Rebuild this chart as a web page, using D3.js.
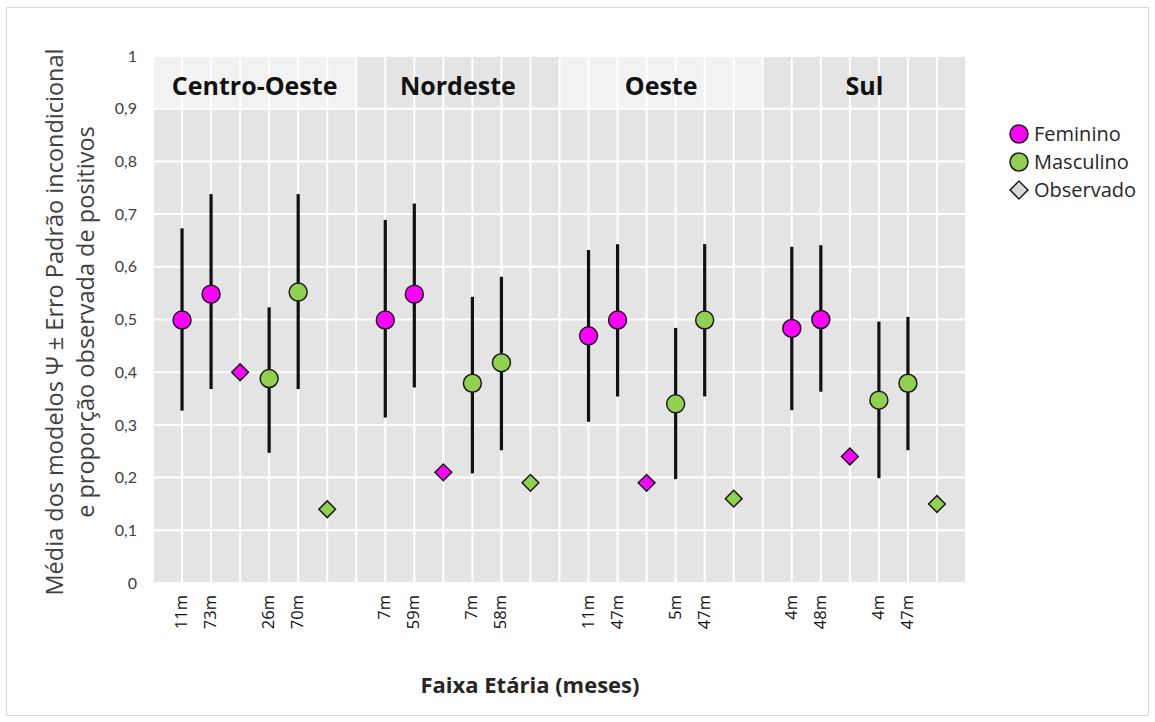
<!DOCTYPE html>
<html>
<head>
<meta charset="utf-8">
<script src="https://cdn.jsdelivr.net/npm/d3@7"></script>
<style>
  body { margin: 0; background: #fff; }
  text { font-family: "Open Sans", Lato, sans-serif; }
</style>
</head>
<body>
<div id="chart"></div>
<script>
// data
const regions = ["Centro-Oeste", "Nordeste", "Oeste", "Sul"];

const femAges  = [["11m", "73m"], ["7m", "59m"], ["11m", "47m"], ["4m", "48m"]];
const femMean  = [[0.499, 0.548], [0.499, 0.548], [0.469, 0.499], [0.483, 0.500]];
const femLow   = [[0.327, 0.368], [0.314, 0.371], [0.306, 0.354], [0.328, 0.363]];
const femHigh  = [[0.673, 0.738], [0.689, 0.720], [0.632, 0.643], [0.638, 0.641]];

const mascAges = [["26m", "70m"], ["7m", "58m"], ["5m", "47m"], ["4m", "47m"]];
const mascMean = [[0.388, 0.552], [0.379, 0.418], [0.340, 0.499], [0.347, 0.379]];
const mascLow  = [[0.247, 0.368], [0.208, 0.252], [0.197, 0.354], [0.199, 0.252]];
const mascHigh = [[0.523, 0.738], [0.543, 0.581], [0.484, 0.643], [0.496, 0.505]];

const obsFem  = [0.40, 0.21, 0.19, 0.24];
const obsMasc = [0.14, 0.19, 0.16, 0.15];

const yTicks = [0, 0.1, 0.2, 0.3, 0.4, 0.5, 0.6, 0.7, 0.8, 0.9, 1];
const legendItems = ["Feminino", "Masculino", "Observado"];

const FEM = "#ff00ff", MASC = "#92d050", OBS = "#d9d9d9";

// build points: each region takes 7 slots on the x axis
const points = [];
const obs = [];
regions.forEach((r, i) => {
  const base = i * 7;
  [0, 1].forEach(j => {
    points.push({x: base + 1 + j, age: femAges[i][j], mean: femMean[i][j], low: femLow[i][j], high: femHigh[i][j], color: FEM});
    points.push({x: base + 4 + j, age: mascAges[i][j], mean: mascMean[i][j], low: mascLow[i][j], high: mascHigh[i][j], color: MASC});
  });
  obs.push({x: base + 3, value: obsFem[i], color: FEM});
  obs.push({x: base + 6, value: obsMasc[i], color: MASC});
});

const W = 1155, H = 722;
const svg = d3.select("#chart").append("svg")
  .attr("width", W)
  .attr("height", H);

// outer frame
svg.append("rect")
  .attr("x", 6.5).attr("y", 7.5)
  .attr("width", 1142).attr("height", 708)
  .attr("fill", "#fff")
  .attr("stroke", "#d9d9d9");

const x = d3.scaleLinear().domain([0, 28]).range([153, 966]);
const y = d3.scaleLinear().domain([0, 1]).range([583, 56]);

// plot area
svg.append("rect")
  .attr("x", x(0)).attr("y", y(1))
  .attr("width", x(28) - x(0)).attr("height", y(0) - y(1))
  .attr("fill", "#e4e4e4");

// header bands
svg.selectAll(".band")
  .data(regions)
  .join("rect")
  .attr("x", (d, i) => x(i * 7))
  .attr("y", y(1))
  .attr("width", x(7) - x(0))
  .attr("height", y(0.9) - y(1))
  .attr("fill", (d, i) => i % 2 === 0 ? "#f2f2f2" : "#e4e4e4");

// gridlines
svg.append("g")
  .selectAll("line")
  .data(yTicks)
  .join("line")
  .attr("x1", x(0)).attr("x2", x(28))
  .attr("y1", d => y(d)).attr("y2", d => y(d))
  .attr("stroke", "#fff")
  .attr("stroke-width", 2);

svg.append("g")
  .selectAll("line")
  .data(d3.range(0, 29))
  .join("line")
  .attr("x1", d => x(d)).attr("x2", d => x(d))
  .attr("y1", y(1)).attr("y2", y(0))
  .attr("stroke", "#fff")
  .attr("stroke-width", 2);

// y axis labels
const yAxis = svg.append("g")
  .attr("transform", `translate(${x(0)},0)`)
  .call(d3.axisLeft(y).tickValues(yTicks).tickSize(0).tickPadding(16)
    .tickFormat(d => d3.format(".1~f")(d).replace(".", ",")));
yAxis.select(".domain").remove();
yAxis.selectAll("text")
  .style("font-family", "Lato, sans-serif")
  .style("font-size", "16px")
  .attr("fill", "#404040");

// region headers
svg.selectAll(".region")
  .data(regions)
  .join("text")
  .attr("x", (d, i) => x(i * 7 + 3.5))
  .attr("y", 95)
  .attr("text-anchor", "middle")
  .style("font-size", "25px")
  .style("font-weight", "bold")
  .attr("fill", "#111")
  .text(d => d);

// error bars
svg.selectAll(".err")
  .data(points)
  .join("line")
  .attr("x1", d => x(d.x)).attr("x2", d => x(d.x))
  .attr("y1", d => y(d.low)).attr("y2", d => y(d.high))
  .attr("stroke", "#111")
  .attr("stroke-width", 3.2);

// means
svg.selectAll(".mean")
  .data(points)
  .join("circle")
  .attr("cx", d => x(d.x))
  .attr("cy", d => y(d.mean))
  .attr("r", 9)
  .attr("fill", d => d.color)
  .attr("stroke", "#1a1a1a")
  .attr("stroke-width", 1.5);

// observed proportions
const diamond = d3.symbol().type(d3.symbolSquare).size(140);
svg.selectAll(".obs")
  .data(obs)
  .join("path")
  .attr("d", diamond)
  .attr("transform", d => `translate(${x(d.x)},${y(d.value)}) rotate(45)`)
  .attr("fill", d => d.color)
  .attr("stroke", "#1a1a1a")
  .attr("stroke-width", 1.5);

// x tick labels
svg.selectAll(".age")
  .data(points)
  .join("text")
  .attr("transform", d => `translate(${x(d.x) + 5},595) rotate(-90)`)
  .attr("text-anchor", "end")
  .style("font-size", "16.5px")
  .attr("fill", "#111")
  .text(d => d.age);

// axis titles
svg.append("text")
  .attr("x", 530).attr("y", 693)
  .attr("text-anchor", "middle")
  .style("font-size", "22px")
  .style("font-weight", "bold")
  .attr("fill", "#262626")
  .text("Faixa Etária (meses)");

const yTitle = svg.append("text")
  .attr("transform", "translate(0,322) rotate(-90)")
  .attr("text-anchor", "middle")
  .style("font-size", "23.5px")
  .attr("fill", "#404040");
yTitle.append("tspan").attr("x", 0).attr("y", 63)
  .text("Média dos modelos Ψ ± Erro Padrão incondicional");
yTitle.append("tspan").attr("x", 0).attr("y", 94)
  .text("e proporção observada de positivos");

// legend
const legend = svg.append("g").attr("transform", "translate(1019,134)");
const legendColors = [FEM, MASC, OBS];
legendItems.forEach((name, i) => {
  const g = legend.append("g").attr("transform", `translate(0,${i * 28})`);
  if (i < 2) {
    g.append("circle").attr("r", 9)
      .attr("fill", legendColors[i])
      .attr("stroke", "#1a1a1a").attr("stroke-width", 1.5);
  } else {
    g.append("path").attr("d", d3.symbol().type(d3.symbolSquare).size(160))
      .attr("transform", "rotate(45)")
      .attr("fill", legendColors[i])
      .attr("stroke", "#1a1a1a").attr("stroke-width", 1.5);
  }
  g.append("text")
    .attr("x", 15).attr("y", 7)
    .style("font-size", "20px")
    .attr("fill", "#262626")
    .text(name);
});
</script>
</body>
</html>
